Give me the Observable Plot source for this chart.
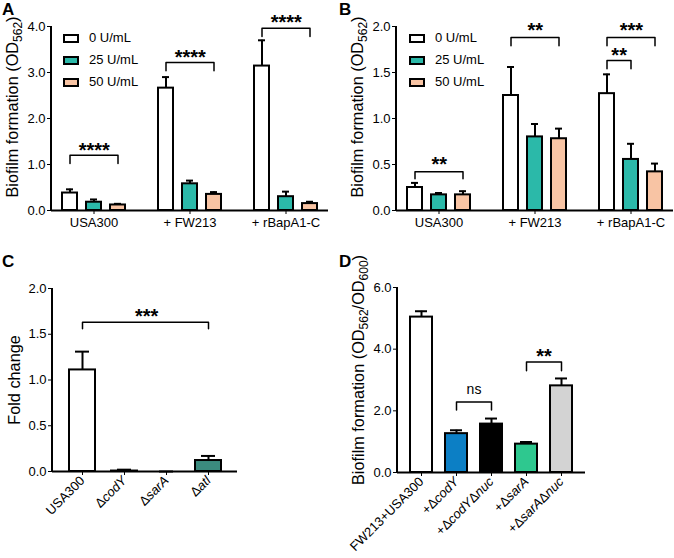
<!DOCTYPE html>
<html><head><meta charset="utf-8">
<script src="https://cdn.jsdelivr.net/npm/d3@7"></script>
<script src="https://cdn.jsdelivr.net/npm/@observablehq/plot@0.6"></script>
<style>
body{margin:0;background:#fff;}
#fig{position:relative;width:674px;height:558px;font-family:"Liberation Sans",Arial,sans-serif;color:#000;overflow:hidden;background:#fff}
#fig svg{position:absolute;overflow:visible;max-width:none;background:transparent}
.legend{position:absolute;font-size:13px;line-height:22px}
.legend .row{display:flex;align-items:center;height:22px}
.legend .sw{box-sizing:border-box;width:16px;height:9px;border:2px solid #000;margin-right:10px}
</style></head><body><div id="fig"></div>
<script>
// ---------- data ----------
const conditions = ["0 U/mL", "25 U/mL", "50 U/mL"];
const conditionColors = ["#ffffff", "#2bb9a9", "#f8c4a4"];
const groupsAB = ["USA300", "+ FW213", "+ rBapA1-C"];

const meansA = [[0.38, 0.18, 0.12], [2.66, 0.58, 0.35], [3.14, 0.30, 0.15]];
const sdsA   = [[0.08, 0.06, 0.025], [0.24, 0.07, 0.05], [0.56, 0.11, 0.04]];
const ticksA = [0, 1, 2, 3, 4];
const bracketsA = [
  {group: "USA300", from: 0, to: 2, leg: 1.02, top: 1.20, labelY: 1.41, label: "****"},
  {group: "+ FW213", from: 0, to: 2, leg: 3.04, top: 3.22, labelY: 3.43, label: "****"},
  {group: "+ rBapA1-C", from: 0, to: 2, leg: 3.78, top: 3.96, labelY: 4.20, label: "****"}
];

const meansB = [[0.25, 0.17, 0.17], [1.25, 0.80, 0.78], [1.27, 0.555, 0.42]];
const sdsB   = [[0.05, 0.02, 0.04], [0.31, 0.14, 0.11], [0.21, 0.17, 0.09]];
const ticksB = [0, 0.5, 1, 1.5, 2];
const bracketsB = [
  {group: "USA300", from: 0, to: 2, leg: 0.345, top: 0.42, labelY: 0.55, label: "**"},
  {group: "+ FW213", from: 0, to: 2, leg: 1.79, top: 1.88, labelY: 2.01, label: "**"},
  {group: "+ rBapA1-C", from: 0, to: 2, leg: 1.79, top: 1.88, labelY: 2.01, label: "***"},
  {group: "+ rBapA1-C", from: 0, to: 1, leg: 1.54, top: 1.63, labelY: 1.74, label: "**"}
];

const strainsC = ["USA300", "ΔcodY", "ΔsarA", "Δatl"];
const meansC = [1.11, 0.005, 0, 0.12];
const sdsC = [0.20, 0.015, 0, 0.05];
const colorsC = ["#ffffff", "#ffffff", "#ffffff", "#3b8b7e"];
const ticksC = [0, 0.5, 1, 1.5, 2];
const bracketsC = [{from: "USA300", to: "Δatl", leg: 1.56, top: 1.63, labelY: 1.75, label: "***"}];

const strainsD = ["FW213+USA300", "+ΔcodY", "+ΔcodYΔnuc", "+ΔsarA", "+ΔsarAΔnuc"];
const meansD = [5.04, 1.26, 1.57, 0.92, 2.81];
const sdsD = [0.19, 0.11, 0.18, 0.07, 0.24];
const colorsD = ["#ffffff", "#0c7fc5", "#000000", "#2ec88f", "#d3d3d3"];
const ticksD = [0, 2, 4, 6];
const bracketsD = [
  {from: "+ΔcodY", to: "+ΔcodYΔnuc", leg: 2.03, top: 2.29, labelY: 2.70, label: "ns"},
  {from: "+ΔsarA", to: "+ΔsarAΔnuc", leg: 3.30, top: 3.58, labelY: 3.92, label: "**"}
];

// ---------- helpers ----------
const fig = document.getElementById("fig");
const FONT = '"Liberation Sans", Arial, sans-serif';

function italicize(svg) {
  d3.select(svg).selectAll("text").each(function() {
    const s = this.textContent;
    if (!s.includes("Δ") || this.querySelector("tspan")) return;
    const parts = s.split(/(Δ[^Δ+]*)/).filter(d => d);
    const el = d3.select(this);
    el.text("");
    for (const p of parts) {
      if (p.startsWith("Δ")) {
        el.append("tspan").text("Δ");
        el.append("tspan").attr("font-style", "italic").text(p.slice(1));
      } else el.append("tspan").text(p);
    }
  });
}

function addYLabel(svg, parts, x, y) {
  const t = d3.select(svg).append("text")
    .attr("transform", `translate(${x},${y}) rotate(-90)`)
    .attr("text-anchor", "middle").style("font-size", "16.3px").attr("fill", "black")
    .attr("font-family", FONT);
  let sub = false;
  for (const [s, isSub] of parts) {
    const ts = t.append("tspan").text(s);
    if (isSub) { ts.style("font-size", "12px"); if (!sub) { ts.attr("dy", 4); sub = true; } }
    else if (sub) { ts.attr("dy", -4); sub = false; }
  }
}

function panel(cfg) {
  const {rows, domain, tickKeys, tickFormat, tickRotate, yDomain, yTicks, brackets, box, pi, po, capInset, ylabel} = cfg;
  const xRange = [box.ml, box.w - box.mr];
  const sx = Plot.scale({x: {type: "band", domain, range: xRange, paddingInner: pi, paddingOuter: po}});
  const pts = brackets.flatMap((b, i) => [
    {id: i, x: b.from, y: b.leg}, {id: i, x: b.from, y: b.top},
    {id: i, x: b.to, y: b.top}, {id: i, x: b.to, y: b.leg}]);
  const labelMarks = brackets.map(b => Plot.text([b], {
    x: "from", y: "labelY", text: "label",
    dx: (sx.apply(b.to) - sx.apply(b.from)) / 2,
    dy: b.label === "ns" ? 0 : 5,
    fontSize: b.label === "ns" ? 14 : 20,
    fontWeight: b.label === "ns" ? "normal" : "bold",
    fill: "black",
    className: "sig",
    style: b.label === "ns" ? "" : "letter-spacing:1.2px"
  }));
  const plot = Plot.plot({
    width: box.w, height: box.h,
    marginLeft: box.ml, marginRight: box.mr, marginTop: box.mt, marginBottom: box.mb,
    style: {fontFamily: FONT, fontSize: "13px", background: "transparent", color: "black", overflow: "visible"},
    color: {type: "identity"},
    x: {type: "band", domain, paddingInner: pi, paddingOuter: po, ticks: tickKeys, tickFormat,
        tickSize: 4, tickPadding: 3, tickRotate, label: null},
    y: {domain: yDomain, ticks: yTicks, tickFormat: d3.format(".1f"), tickSize: 4, tickPadding: 2, label: null},
    marks: [
      Plot.ruleX(rows, {x: "key", y1: "mean", y2: d => d.mean + d.sd, stroke: "black", strokeWidth: 2}),
      Plot.barY(rows, {x: "key", y: "mean", fill: "color", stroke: "black", strokeWidth: 2}),
      Plot.tickY(rows, {x: "key", y: d => d.mean + d.sd, stroke: "black", strokeWidth: 2, insetLeft: capInset, insetRight: capInset}),
      Plot.ruleY([0], {stroke: "black", strokeWidth: 2}),
      Plot.line(pts, {x: "x", y: "y", z: "id", stroke: "black", strokeWidth: 1.5}),
      ...labelMarks
    ]
  });
  // force axis tick label size
  d3.select(plot).selectAll('g[aria-label*="axis"] text, g[aria-label*="axis"] g text')
    .style("font-size", "13px").style("font-family", FONT);
  const ys = plot.scale("y");
  d3.select(plot).append("line")
    .attr("x1", box.ml).attr("x2", box.ml)
    .attr("y1", ys.apply(yDomain[0]) + 1).attr("y2", ys.apply(yDomain[1]))
    .attr("stroke", "black").attr("stroke-width", 2);
  italicize(plot);
  addYLabel(plot, ylabel.parts, ylabel.x, ylabel.y);
  plot.style.left = box.left + "px";
  plot.style.top = box.top + "px";
  fig.appendChild(plot);
  return plot;
}

function groupedRows(means, sds) {
  const rows = [];
  groupsAB.forEach((g, i) => conditions.forEach((c, j) =>
    rows.push({key: g + "|" + c, mean: means[i][j], sd: sds[i][j], color: conditionColors[j]})));
  return rows;
}
function groupedDomain() {
  const dom = [];
  groupsAB.forEach((g, i) => { if (i) dom.push("gap" + i); conditions.forEach(c => dom.push(g + "|" + c)); });
  return dom;
}
function groupedBrackets(list) {
  return list.map(b => ({...b, from: b.group + "|" + conditions[b.from], to: b.group + "|" + conditions[b.to]}));
}
function legend(left, top) {
  const div = document.createElement("div");
  div.className = "legend";
  div.style.left = left + "px"; div.style.top = top + "px";
  conditions.forEach((c, j) => {
    const r = document.createElement("div"); r.className = "row";
    const sw = document.createElement("span"); sw.className = "sw"; sw.style.background = conditionColors[j];
    const t = document.createElement("span"); t.textContent = c;
    r.appendChild(sw); r.appendChild(t); div.appendChild(r);
  });
  fig.appendChild(div);
}

const odLabel = [["Biofilm formation (OD", 0], ["562", 1], [")", 0]];
const tickKeysAB = groupsAB.map(g => g + "|" + conditions[1]);
const fmtAB = k => k.split("|")[0];

// Panel A
panel({
  rows: groupedRows(meansA, sdsA), domain: groupedDomain(), tickKeys: tickKeysAB, tickFormat: fmtAB,
  tickRotate: 0, yDomain: [0, 4], yTicks: ticksA, brackets: groupedBrackets(bracketsA),
  box: {left: 0, top: 0, w: 337, h: 279, ml: 51, mr: 9, mt: 26, mb: 69},
  pi: 0.38, po: 0.39, capInset: 4, ylabel: {parts: odLabel, x: 18, y: 107}
});
// Panel B
panel({
  rows: groupedRows(meansB, sdsB), domain: groupedDomain(), tickKeys: tickKeysAB, tickFormat: fmtAB,
  tickRotate: 0, yDomain: [0, 2], yTicks: ticksB, brackets: groupedBrackets(bracketsB),
  box: {left: 337, top: 0, w: 337, h: 279, ml: 59, mr: 1, mt: 26, mb: 69},
  pi: 0.38, po: 0.39, capInset: 4, ylabel: {parts: odLabel, x: 26, y: 107}
});
// Panel C
panel({
  rows: strainsC.map((s, i) => ({key: s, mean: meansC[i], sd: sdsC[i], color: colorsC[i]})),
  domain: strainsC, tickKeys: strainsC, tickFormat: d => d, tickRotate: -45,
  yDomain: [0, 2], yTicks: ticksC, brackets: bracketsC,
  box: {left: 0, top: 279, w: 337, h: 279, ml: 52, mr: 100, mt: 9, mb: 87},
  pi: 0.39, po: 0.36, capInset: 6, ylabel: {parts: [["Fold change", 0]], x: 20, y: 101}
});
// Panel D
panel({
  rows: strainsD.map((s, i) => ({key: s, mean: meansD[i], sd: sdsD[i], color: colorsD[i]})),
  domain: strainsD, tickKeys: strainsD, tickFormat: d => d, tickRotate: -45,
  yDomain: [0, 6], yTicks: ticksD, brackets: bracketsD,
  box: {left: 337, top: 279, w: 337, h: 279, ml: 60, mr: 89, mt: 8, mb: 86},
  pi: 0.37, po: 0.37, capInset: 5,
  ylabel: {parts: [["Biofilm formation (OD", 0], ["562", 1], ["/OD", 0], ["600", 1], [")", 0]], x: 27, y: 91}
});

legend(63, 27);
legend(409, 27);

// panel letters
const letters = d3.select(fig).append("svg").attr("width", 674).attr("height", 558)
  .style("left", "0px").style("top", "0px").style("pointer-events", "none");
[["A", 2, 15], ["B", 339, 15], ["C", 2, 267], ["D", 339, 267]].forEach(([t, x, y]) =>
  letters.append("text").attr("x", x).attr("y", y).attr("font-family", FONT)
    .attr("font-weight", "bold").attr("font-size", 17).text(t));
</script></body></html>
